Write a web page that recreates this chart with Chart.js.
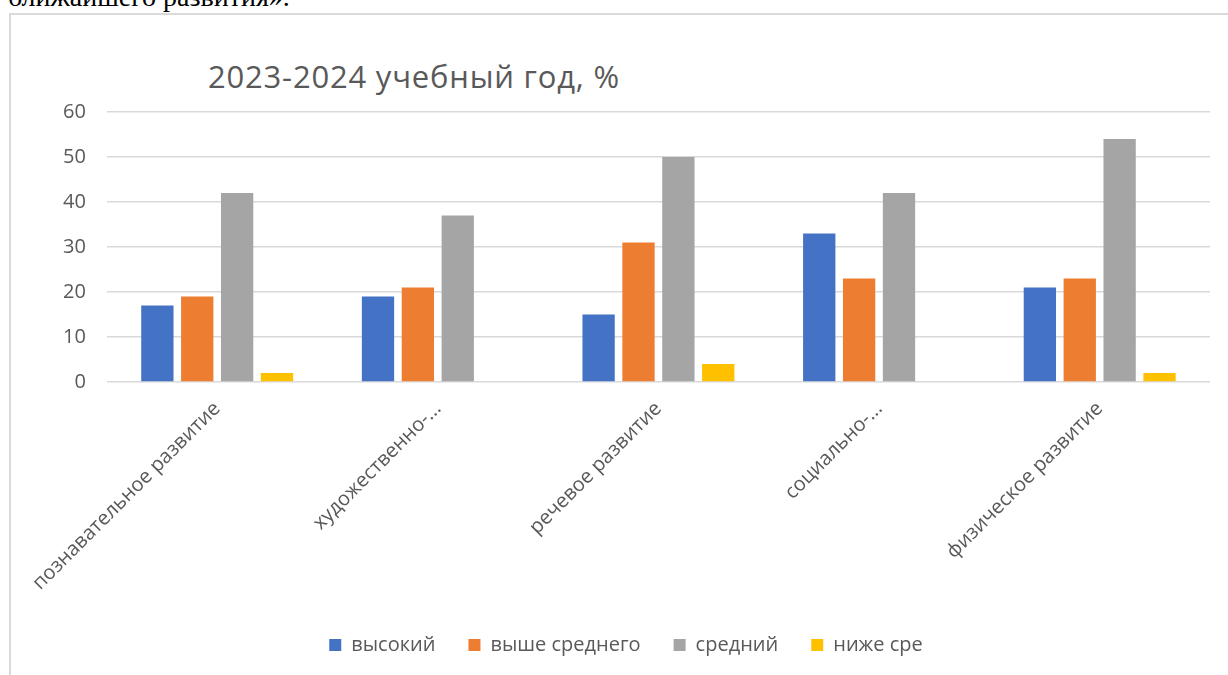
<!DOCTYPE html>
<html lang="ru">
<head>
    <meta charset="UTF-8">
    <title>2023-2024 учебный год, %</title>
    <script src="https://cdn.jsdelivr.net/npm/chart.js@4.4.1/dist/chart.umd.min.js"></script>
    <style>
        html, body {
            margin: 0;
            padding: 0;
            width: 1228px;
            height: 675px;
            overflow: hidden;
            background: #ffffff;
        }
        .top-text {
            position: absolute;
            left: 8px;
            top: -17px;
            font-family: "Liberation Serif", "Times New Roman", serif;
            font-size: 28px;
            line-height: 1;
            color: #000;
            white-space: nowrap;
        }
        .frame {
            position: absolute;
            left: 9px;
            top: 13px;
            width: 1300px;
            height: 700px;
            border-left: 2px solid #d9d9d9;
            border-top: 2px solid #d9d9d9;
        }
        .chart-title {
            position: absolute;
            left: 208px;
            top: 61px;
            font-family: "Open Sans", sans-serif;
            font-size: 31px;
            letter-spacing: 0.8px;
            line-height: 1;
            color: #595959;
            white-space: nowrap;
        }
        .chart-box {
            position: absolute;
            left: 0;
            top: 0;
            width: 1228px;
            height: 675px;
        }
    </style>
</head>
<body>
    <div class="top-text">ближайшего развития».</div>
    <div class="frame"></div>
    <div class="chart-title">2023-2024 учебный год, %</div>
    <div class="chart-box">
        <canvas id="levelsChart" width="1228" height="675"></canvas>
    </div>

    <script>
        // data
        const categories = [
            'познавательное развитие',
            'художественно-...',
            'речевое развитие',
            'социально-...',
            'физическое развитие'
        ];
        const seriesNames = ['высокий', 'выше среднего', 'средний', 'ниже сре'];
        const highValues = [17, 19, 15, 33, 21];
        const aboveAvgValues = [19, 21, 31, 23, 23];
        const avgValues = [42, 37, 50, 42, 54];
        const belowAvgValues = [2, 0, 4, 0, 2];
        const yMin = 0;
        const yMax = 60;
        const yStep = 10;

        const colors = ['#4472c4', '#ed7d31', '#a5a5a5', '#ffc000'];
        const textColor = '#595959';
        const gridColor = '#d9d9d9';

        Chart.defaults.font.family = '"Open Sans", sans-serif';
        Chart.defaults.color = textColor;

        const allValues = [highValues, aboveAvgValues, avgValues, belowAvgValues];

        new Chart(document.getElementById('levelsChart'), {
            type: 'bar',
            data: {
                labels: categories,
                datasets: seriesNames.map((name, i) => ({
                    label: name,
                    data: allValues[i],
                    backgroundColor: colors[i],
                    borderWidth: 0,
                    categoryPercentage: 0.723,
                    barPercentage: 0.81
                }))
            },
            options: {
                responsive: false,
                animation: false,
                maintainAspectRatio: false,
                layout: {
                    padding: { left: 42, top: 112, right: 18, bottom: 10 }
                },
                scales: {
                    x: {
                        grid: { display: false },
                        border: { display: false },
                        ticks: {
                            color: textColor,
                            font: { size: 20 },
                            minRotation: 45,
                            maxRotation: 45,
                            autoSkip: false,
                            padding: 7
                        }
                    },
                    y: {
                        min: yMin,
                        max: yMax,
                        grid: {
                            color: gridColor,
                            lineWidth: 1.5,
                            drawTicks: false
                        },
                        border: { display: false },
                        ticks: {
                            stepSize: yStep,
                            color: textColor,
                            font: { size: 20 },
                            padding: 21
                        }
                    }
                },
                plugins: {
                    title: { display: false },
                    tooltip: { enabled: false },
                    legend: {
                        position: 'bottom',
                        labels: {
                            color: textColor,
                            font: { size: 20 },
                            boxWidth: 12,
                            boxHeight: 12,
                            padding: 33
                        }
                    }
                }
            }
        });
    </script>
</body>
</html>
